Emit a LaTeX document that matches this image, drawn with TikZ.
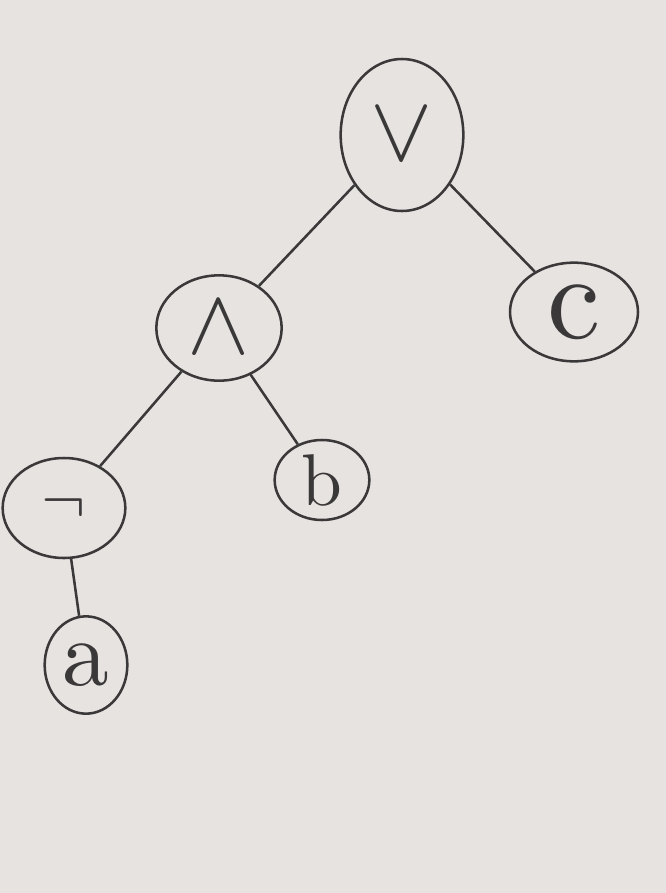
\documentclass[tikz,border=0pt]{standalone}
\usepackage{graphicx}
\usetikzlibrary{shapes.geometric}
\definecolor{board}{RGB}{230,227,225}
\definecolor{marker}{RGB}{58,56,56}
\tikzset{every picture/.style={line width=0.75pt}}
\tikzset{tnode/.style 2 args={draw=marker, ellipse, line width=1.9pt, minimum width=#1, minimum height=#2, inner sep=0pt, text=marker}}
\newcommand{\bigsym}[2][7]{\scalebox{#1}{#2}}
\begin{document}
\begin{tikzpicture}[x=0.75pt,y=0.75pt,yscale=-1,xscale=1]
    %set diagram to the size of the board
    \fill[board] (0,0) rectangle (666,893);
    \useasboundingbox (0,0) rectangle (666,893);
    % Tree Nodes
    \node [tnode={92pt}{114pt}] (or) at (402,135) {\bigsym{$\vee$}};
    \node [tnode={94pt}{79pt}] (and) at (219,328) {\bigsym{$\wedge$}};
    \node [tnode={96pt}{74pt}] (c) at (574,312) {\bigsym[9]{c}};
    \node [tnode={92pt}{75pt}] (not) at (64,508) {\bigsym[5]{$\neg$}};
    \node [tnode={71pt}{60pt}] (b) at (322,480) {\bigsym[5.5]{b}};
    \node [tnode={62pt}{73pt}] (a) at (86,665) {\bigsym[7]{a}};
    % Edges
    \draw [marker, line width=1.9pt] (or) -- (and);
    \draw [marker, line width=1.9pt] (or) -- (c);
    \draw [marker, line width=1.9pt] (and) -- (not);
    \draw [marker, line width=1.9pt] (and) -- (b);
    \draw [marker, line width=1.9pt] (not) -- (a);
\end{tikzpicture}
\end{document}
